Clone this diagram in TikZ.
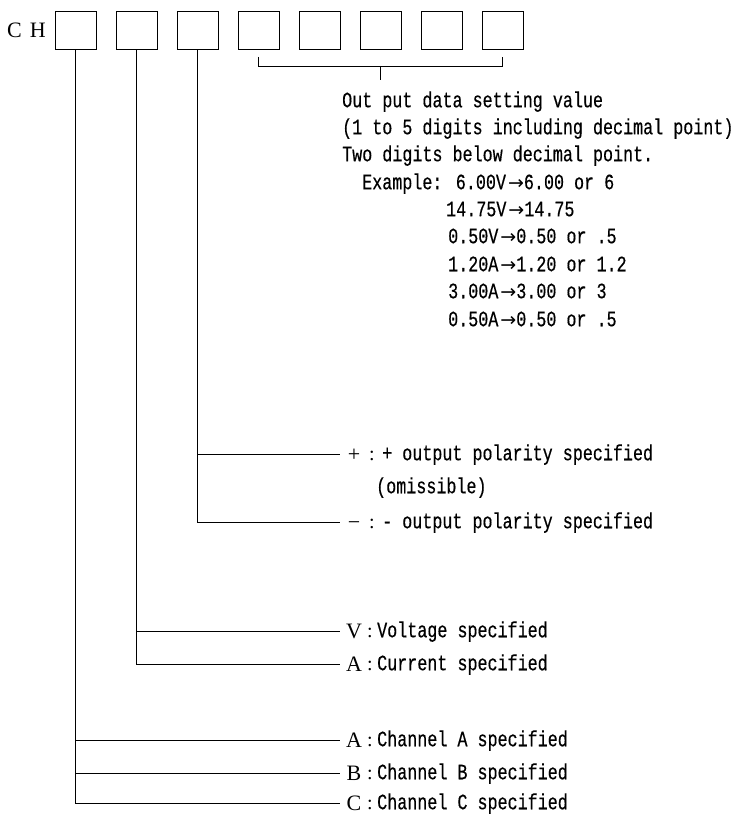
\documentclass[tikz,border=0pt]{standalone}
\usepackage{fontspec}
\setmainfont{Liberation Serif}
\newfontfamily\twfont[FakeStretch=0.76,FakeBold=0.4]{Liberation Mono}
\newfontfamily\keyfont{Liberation Serif}
\newfontfamily\arrfont{DejaVu Sans}
\newcommand\myarr{\kern2pt{\arrfont\fontsize{19}{19}\selectfont →}}
\begin{document}
\begin{tikzpicture}[x=1pt,y=-1pt,
  box/.style={draw, line width=0.9pt, minimum width=41pt, minimum height=38pt, inner sep=0pt},
  ln/.style={line width=0.8pt},
  key/.style={font=\keyfont\fontsize{22}{22}\selectfont, text height=14.5pt, text depth=0pt, inner sep=0pt, minimum width=28pt},
  colon/.style={font=\keyfont\fontsize{20}{20}\selectfont, text height=13.2pt, text depth=0pt, inner sep=0pt},
  desc/.style={font=\twfont\fontsize{22}{22}\selectfont, text height=12.5pt, text depth=0pt, inner sep=0pt, anchor=west},
]
\useasboundingbox (0,0) rectangle (739,826);

\node[key, anchor=west, minimum width=0pt] (ch) at (7,30) {C\kern8pt H};
\foreach \i/\x in {1/75.5,2/136.5,3/197.5,4/258.5,5/319.5,6/380.5,7/441.5,8/502.5}
  \node[box] (b\i) at (\x,30) {};

% bracket over the data digits
\draw[ln] (b4.south |- 0,57) -- (b4.south |- 0,66) -- (b8.south |- 0,66) -- (b8.south |- 0,57);
\draw[ln] (b6.south |- 0,66) -- (b6.south |- 0,80);

% data description
\node[desc] (t1) at (342,101) {Out put data setting value};
\node[desc] (t2) at (342,128) {(1 to 5 digits including decimal point)};
\node[desc] (t3) at (342,155) {Two digits below decimal point.};
\node[desc] (t4) at (362,183) {Example: 6.00V\myarr 6.00 or 6};
\node[desc] (t5) at (446,210) {14.75V\myarr 14.75};
\node[desc] (t6) at (448,237) {0.50V\myarr 0.50 or .5};
\node[desc] (t7) at (448,265) {1.20A\myarr 1.20 or 1.2};
\node[desc] (t8) at (448,292) {3.00A\myarr 3.00 or 3};
\node[desc] (t9) at (448,320) {0.50A\myarr 0.50 or .5};

% polarity
\node[key] (kp) at (354,454) {+};
\node[colon] (cp) at (372,454) {:};
\node[desc] (dp) at (382,454) {+ output polarity specified};
\node[desc] (om) at (376,487) {(omissible)};
\node[key] (km) at (354,522) {−};
\node[colon] (cm) at (372,522) {:};
\node[desc] (dm) at (382,522) {- output polarity specified};

% voltage / current
\node[key] (kv) at (354,631) {V};
\node[colon] (cv) at (370,631) {:};
\node[desc] (dv) at (377,631) {Voltage specified};
\node[key] (ka) at (354,664) {A};
\node[colon] (ca) at (370,664) {:};
\node[desc] (da) at (377,664) {Current specified};

% channel
\node[key] (kca) at (354,740) {A};
\node[colon] (cca) at (370,740) {:};
\node[desc] (dca) at (377,740) {Channel A specified};
\node[key] (kcb) at (354,773) {B};
\node[colon] (ccb) at (370,773) {:};
\node[desc] (dcb) at (377,773) {Channel B specified};
\node[key] (kcc) at (354,803) {C};
\node[colon] (ccc) at (370,803) {:};
\node[desc] (dcc) at (377,803) {Channel C specified};

% connectors
\draw[ln] (b3.south) |- (km.west);
\draw[ln] (b3.south |- kp.west) -- (kp.west);
\draw[ln] (b2.south) |- (ka.west);
\draw[ln] (b2.south |- kv.west) -- (kv.west);
\draw[ln] (b1.south) |- (kcc.west);
\draw[ln] (b1.south |- kca.west) -- (kca.west);
\draw[ln] (b1.south |- kcb.west) -- (kcb.west);
\end{tikzpicture}
\end{document}
